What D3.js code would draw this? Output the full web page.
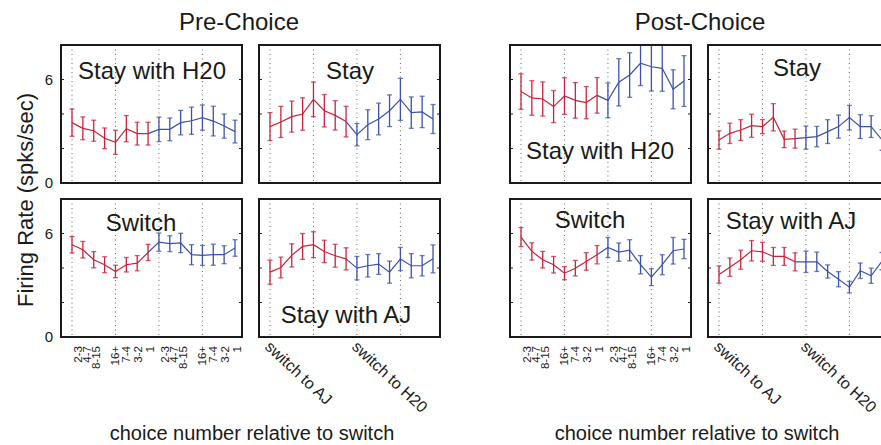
<!DOCTYPE html>
<html>
<head>
<meta charset="utf-8">
<script src="https://cdn.jsdelivr.net/npm/d3@7"></script>
<style>
  body { margin: 0; background: #fff; }
  svg { font-family: "Liberation Sans", Arial, sans-serif; }
</style>
</head>
<body>
<svg id="chart" width="881" height="445"></svg>
<script>
// ---- data ----
// 16 choices per panel: 8 before the switch (red), 8 after (blue)
const tickLabels = ["2-3", "4-7", "8-15", "16+", "7-4", "3-2", "1"];
const switchLabels = ["switch to AJ", "switch to H20"];

const preStayH20Mean = [3.50, 3.17, 3.03, 2.59, 2.36, 3.15, 2.86, 2.86, 3.11, 3.11, 3.50, 3.61, 3.79, 3.59, 3.30, 2.98];
const preStayH20Err  = [0.79, 0.66, 0.61, 0.60, 0.70, 0.76, 0.66, 0.66, 0.71, 0.66, 0.71, 0.79, 0.73, 0.86, 0.70, 0.66];

const preStayMean = [3.27, 3.54, 3.85, 4.00, 4.85, 4.19, 3.92, 3.56, 2.80, 3.38, 3.71, 4.19, 4.85, 4.08, 4.12, 3.71];
const preStayErr  = [0.81, 0.90, 0.90, 0.94, 1.00, 0.94, 0.85, 0.89, 0.65, 0.87, 0.92, 0.92, 1.22, 0.91, 0.91, 0.84];

const preSwitchMean = [5.35, 5.06, 4.48, 4.19, 3.80, 4.19, 4.28, 4.90, 5.50, 5.41, 5.45, 4.77, 4.73, 4.77, 4.77, 5.16];
const preSwitchErr  = [0.47, 0.48, 0.47, 0.46, 0.36, 0.42, 0.44, 0.47, 0.53, 0.46, 0.56, 0.58, 0.58, 0.61, 0.52, 0.48];

const preStayAJMean = [3.76, 4.03, 4.73, 5.25, 5.35, 4.96, 4.71, 4.53, 3.99, 4.13, 4.23, 3.76, 4.52, 4.13, 4.13, 4.53];
const preStayAJErr  = [0.70, 0.60, 0.67, 0.75, 0.75, 0.65, 0.66, 0.64, 0.68, 0.65, 0.60, 0.64, 0.67, 0.70, 0.59, 0.81];

const postStayH20Mean = [5.30, 4.93, 4.87, 4.43, 5.04, 4.79, 4.66, 5.08, 4.79, 5.84, 6.26, 6.94, 6.74, 6.65, 5.43, 5.91];
const postStayH20Err  = [1.03, 1.00, 0.99, 0.93, 1.06, 1.03, 0.93, 1.03, 1.01, 1.37, 1.29, 1.29, 1.41, 1.33, 1.13, 1.47];

const postStayMean = [2.49, 2.88, 3.07, 3.32, 3.27, 3.81, 2.53, 2.57, 2.63, 2.69, 2.98, 3.27, 3.79, 3.27, 3.27, 2.50];
const postStayErr  = [0.53, 0.59, 0.60, 0.67, 0.41, 0.79, 0.48, 0.55, 0.67, 0.59, 0.69, 0.67, 0.71, 0.69, 0.63, 0.60];

const postSwitchMean = [5.79, 4.96, 4.48, 4.19, 3.70, 3.99, 4.38, 4.77, 5.19, 4.92, 5.03, 4.19, 3.47, 4.19, 5.00, 5.10];
const postSwitchErr  = [0.55, 0.50, 0.48, 0.48, 0.38, 0.45, 0.51, 0.53, 0.58, 0.53, 0.61, 0.53, 0.49, 0.58, 0.77, 0.56];

const postStayAJMean = [3.62, 4.05, 4.48, 5.00, 4.94, 4.67, 4.67, 4.36, 4.36, 4.36, 3.80, 3.35, 2.89, 3.84, 3.55, 4.40];
const postStayAJErr  = [0.50, 0.53, 0.55, 0.59, 0.55, 0.52, 0.52, 0.52, 0.62, 0.56, 0.38, 0.44, 0.33, 0.45, 0.44, 0.50];

// ---- layout ----
const pw = 181, ph = 138;
const colX = [61, 259, 510, 708];
const rowY = [45, 199];
const red = "#c8233a", blue = "#3d52a6";
// where each numeric tick label sits along the choice index (labels are squeezed on the left)
const tickPos = [0.55, 1.4, 2.25, 4, 5, 6.1, 7.2];

const panels = [
  { c: 0, r: 0, mean: preStayH20Mean, err: preStayH20Err, label: "Stay with H20", lx: 91, ly: 34 },
  { c: 1, r: 0, mean: preStayMean, err: preStayErr, label: "Stay", lx: 91, ly: 34 },
  { c: 0, r: 1, mean: preSwitchMean, err: preSwitchErr, label: "Switch", lx: 80, ly: 32, axis: "num" },
  { c: 1, r: 1, mean: preStayAJMean, err: preStayAJErr, label: "Stay with AJ", lx: 87, ly: 124, axis: "switch" },
  { c: 2, r: 0, mean: postStayH20Mean, err: postStayH20Err, label: "Stay with H20", lx: 90, ly: 114 },
  { c: 3, r: 0, mean: postStayMean, err: postStayErr, label: "Stay", lx: 89, ly: 31 },
  { c: 2, r: 1, mean: postSwitchMean, err: postSwitchErr, label: "Switch", lx: 80, ly: 29, axis: "num" },
  { c: 3, r: 1, mean: postStayAJMean, err: postStayAJErr, label: "Stay with AJ", lx: 83, ly: 30, axis: "switch" }
];

const svg = d3.select("#chart");

const x = d3.scaleLinear().domain([0, 15]).range([11, 174]);
const y = d3.scaleLinear().domain([0, 8]).range([ph, 0]);

panels.forEach((p, k) => {
  const g = svg.append("g")
    .attr("transform", `translate(${colX[p.c]},${rowY[p.r]})`);

  const clipId = "clip" + k;
  g.append("clipPath").attr("id", clipId)
    .append("rect").attr("width", pw).attr("height", ph);

  // dotted vertical grid
  g.append("g").selectAll("line")
    .data([0, 4, 8, 12])
    .join("line")
    .attr("x1", d => x(d)).attr("x2", d => x(d))
    .attr("y1", 0).attr("y2", ph)
    .attr("stroke", "#666")
    .attr("stroke-width", 1)
    .attr("stroke-dasharray", "1,3.5");

  // inner y ticks on both sides
  [2, 4, 6].forEach(v => {
    g.append("line").attr("x1", 0).attr("x2", 3).attr("y1", y(v)).attr("y2", y(v)).attr("stroke", "#222");
    g.append("line").attr("x1", pw - 3).attr("x2", pw).attr("y1", y(v)).attr("y2", y(v)).attr("stroke", "#222");
  });

  const pts = p.mean.map((m, i) => ({ i, m, e: p.err[i] }));
  const redPts = pts.slice(0, 8), bluePts = pts.slice(7);
  const line = d3.line().x(d => x(d.i)).y(d => y(d.m));

  const plot = g.append("g").attr("clip-path", `url(#${clipId})`);

  [[redPts, red], [bluePts, blue]].forEach(([data, col], s) => {
    plot.append("path")
      .datum(data)
      .attr("fill", "none")
      .attr("stroke", col)
      .attr("stroke-width", 1.2)
      .attr("d", line);
    const eb = plot.append("g").attr("stroke", col).attr("stroke-width", 1.3);
    const bars = s === 0 ? data : data.slice(1);
    eb.selectAll("line.v").data(bars).join("line").attr("class", "v")
      .attr("x1", d => x(d.i)).attr("x2", d => x(d.i))
      .attr("y1", d => y(d.m - d.e)).attr("y2", d => y(d.m + d.e));
    eb.selectAll("line.t").data(bars).join("line").attr("class", "t")
      .attr("x1", d => x(d.i) - 2.5).attr("x2", d => x(d.i) + 2.5)
      .attr("y1", d => y(d.m + d.e)).attr("y2", d => y(d.m + d.e))
      .attr("stroke-opacity", 0.75);
    eb.selectAll("line.b").data(bars).join("line").attr("class", "b")
      .attr("x1", d => x(d.i) - 2.5).attr("x2", d => x(d.i) + 2.5)
      .attr("y1", d => y(d.m - d.e)).attr("y2", d => y(d.m - d.e))
      .attr("stroke-opacity", 0.75);
  });

  // frame
  g.append("rect")
    .attr("width", pw).attr("height", ph)
    .attr("fill", "none")
    .attr("stroke", "#1a1a1a")
    .attr("stroke-width", 2);

  g.append("text")
    .attr("x", p.lx).attr("y", p.ly)
    .attr("text-anchor", "middle")
    .attr("font-size", 24)
    .attr("fill", "#1a1a1a")
    .text(p.label);

  // y tick labels on first column only
  if (p.c === 0) {
    g.selectAll("text.yl").data([0, 6]).join("text").attr("class", "yl")
      .attr("x", -8).attr("y", d => y(d) + 5)
      .attr("text-anchor", "end")
      .attr("font-size", 15)
      .attr("fill", "#1a1a1a")
      .text(d => d);
  }

  if (p.axis === "num") {
    [0, 8].forEach(off => {
      g.append("g").selectAll("text")
        .data(tickLabels)
        .join("text")
        .attr("transform", (d, j) => `translate(${x(tickPos[j] + off) + 4},${ph + 9}) rotate(-90)`)
        .attr("text-anchor", "end")
        .attr("font-size", 11.5)
        .attr("fill", "#1a1a1a")
        .text(d => d);
    });
  }
  if (p.axis === "switch") {
    g.append("g").selectAll("text")
      .data(switchLabels)
      .join("text")
      .attr("transform", (d, j) => `translate(${x(j * 8) - 6},${ph + 11}) rotate(43)`)
      .attr("font-size", 16)
      .attr("fill", "#1a1a1a")
      .text(d => d);
  }
});

// titles
svg.append("text").attr("x", 239).attr("y", 30).attr("text-anchor", "middle")
  .attr("font-size", 24).attr("fill", "#1a1a1a").text("Pre-Choice");
svg.append("text").attr("x", 700).attr("y", 30).attr("text-anchor", "middle")
  .attr("font-size", 24).attr("fill", "#1a1a1a").text("Post-Choice");

svg.append("text")
  .attr("transform", "translate(33,200) rotate(-90)")
  .attr("text-anchor", "middle")
  .attr("font-size", 22).attr("fill", "#1a1a1a")
  .text("Firing Rate (spks/sec)");

[252, 697].forEach(cx => {
  svg.append("text").attr("x", cx).attr("y", 440).attr("text-anchor", "middle")
    .attr("font-size", 20).attr("fill", "#1a1a1a")
    .text("choice number relative to switch");
});
</script>
</body>
</html>
